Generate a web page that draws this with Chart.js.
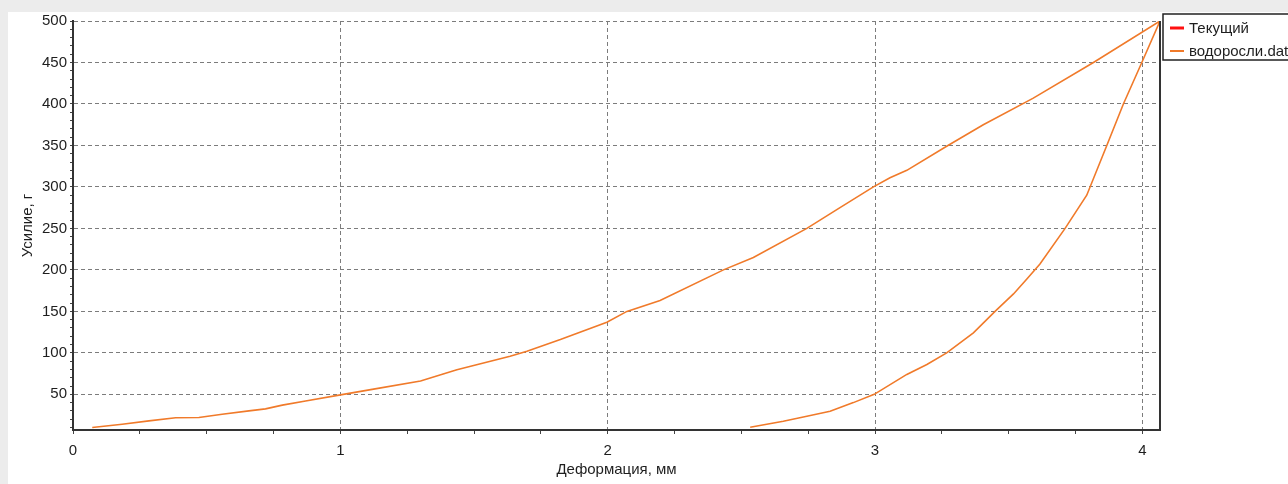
<!DOCTYPE html>
<html>
<head>
<meta charset="utf-8">
<script src="https://cdn.jsdelivr.net/npm/chart.js@4"></script>
<style>
  html, body { margin: 0; padding: 0; background: #ececec; overflow: hidden; }
  #panel { position: absolute; left: 8px; top: 12px; right: 0; bottom: 0; background: #fff; }
  #wrap { position: absolute; left: 0; top: 0; width: 1288px; height: 484px; }
</style>
</head>
<body>
<div id="panel"></div>
<div id="wrap"><canvas id="chart" width="1288" height="484"></canvas></div>
<script>
// loading branch (deformation mm -> force g)
const loadX = [0.072, 0.184, 0.284, 0.384, 0.471, 0.558, 0.658, 0.72, 0.783, 0.87, 0.995, 1.119,
  1.3, 1.436, 1.635, 1.698, 1.823, 1.997, 2.072, 2.196, 2.433, 2.545, 2.745, 2.869, 2.994,
  3.056, 3.119, 3.268, 3.405, 3.592, 3.817, 4.066];
const loadY = [10, 14, 18, 21.7, 22, 26, 30, 32.5, 37, 42, 49, 56,
  66, 79.6, 96, 102, 116, 137, 150, 163, 200, 215, 250, 275, 300,
  311, 320, 349, 375, 407, 450, 500];
// unloading branch, from the peak back down
const unloadX = [3.998, 3.929, 3.867, 3.792, 3.711, 3.617, 3.568, 3.518, 3.449, 3.368, 3.268,
  3.194, 3.119, 2.997, 2.919, 2.832, 2.745, 2.657, 2.533];
const unloadY = [450, 400, 350, 290, 250, 207, 189, 171, 150, 124, 100,
  86, 74, 50, 40, 29.6, 23.5, 17.5, 10.3];

const xLabels = [0, 1, 2, 3, 4];
const yLabels = [50, 100, 150, 200, 250, 300, 350, 400, 450, 500];

const curve = loadX.map((x, i) => ({ x: x, y: loadY[i] }))
  .concat(unloadX.map((x, i) => ({ x: x, y: unloadY[i] })));

const FONT = '"Liberation Sans", Arial, sans-serif';
const TEXT = '#1e1e1e';
const GRID = '#7c7c7c';

const frame = {
  id: 'frame',
  afterDraw(chart) {
    const { ctx, chartArea } = chart;
    ctx.save();
    ctx.strokeStyle = '#333';
    ctx.lineWidth = 2;
    ctx.beginPath();
    ctx.moveTo(chartArea.right, chartArea.top);
    ctx.lineTo(chartArea.right, chartArea.bottom + 1);
    ctx.stroke();

    // legend box on the right, partly cut off by the window
    const x0 = chartArea.right + 3, y0 = 14;
    ctx.fillStyle = '#fff';
    ctx.fillRect(x0, y0, 200, 46);
    ctx.strokeStyle = '#222';
    ctx.lineWidth = 1.5;
    ctx.strokeRect(x0, y0, 200, 46);
    ctx.font = '15px ' + FONT;
    ctx.textBaseline = 'middle';
    chart.data.datasets.forEach((ds, i) => {
      const y = y0 + 14 + i * 23;
      ctx.strokeStyle = ds.borderColor;
      ctx.lineWidth = i === 0 ? 3 : 2;
      ctx.beginPath();
      ctx.moveTo(x0 + 7, y);
      ctx.lineTo(x0 + 21, y);
      ctx.stroke();
      ctx.fillStyle = TEXT;
      ctx.fillText(ds.label, x0 + 26, y + 1);
    });
    ctx.restore();
  }
};

new Chart(document.getElementById('chart'), {
  type: 'line',
  data: {
    datasets: [
      { label: 'Текущий', data: [], borderColor: '#ff1010', borderWidth: 3, pointRadius: 0 },
      { label: 'водоросли.dat', data: curve, borderColor: '#f07a2a', borderWidth: 1.6,
        pointRadius: 0, tension: 0, fill: false }
    ]
  },
  options: {
    responsive: false,
    animation: false,
    layout: { padding: { left: 0, top: 21, right: 128, bottom: 0 } },
    plugins: { legend: { display: false }, tooltip: { enabled: false } },
    scales: {
      x: {
        type: 'linear', min: 0, max: 4.066,
        ticks: {
          stepSize: 0.25, includeBounds: false, autoSkip: false, maxRotation: 0,
          padding: 8, color: TEXT, font: { family: FONT, size: 15 },
          callback: v => xLabels.includes(v) ? String(v) : ''
        },
        grid: {
          color: c => (c.tick && c.tick.value !== 0 && xLabels.includes(c.tick.value)) ? GRID : 'rgba(0,0,0,0)',
          tickColor: '#444', tickLength: 4, lineWidth: 1
        },
        border: { color: '#333', width: 2, dash: [4, 3] },
        title: { display: true, text: 'Деформация, мм', color: TEXT,
          font: { family: FONT, size: 15 }, padding: { top: 0, bottom: 5 } },
        afterFit: s => { s.height = 54; }
      },
      y: {
        type: 'linear', min: 7, max: 500,
        ticks: {
          stepSize: 10, includeBounds: false, autoSkip: false,
          padding: 3, color: TEXT, font: { family: FONT, size: 15 },
          callback: v => yLabels.includes(v) ? String(v) : ''
        },
        grid: {
          color: c => (c.tick && yLabels.includes(c.tick.value)) ? GRID : 'rgba(0,0,0,0)',
          tickColor: '#444', tickLength: 3, lineWidth: 1
        },
        border: { color: '#333', width: 2, dash: [4, 3] },
        title: { display: true, text: 'Усилие, г', color: TEXT,
          font: { family: FONT, size: 15 }, padding: { top: 19, bottom: 0 } },
        afterFit: s => { s.width = 73; }
      }
    }
  },
  plugins: [frame]
});
</script>
</body>
</html>
